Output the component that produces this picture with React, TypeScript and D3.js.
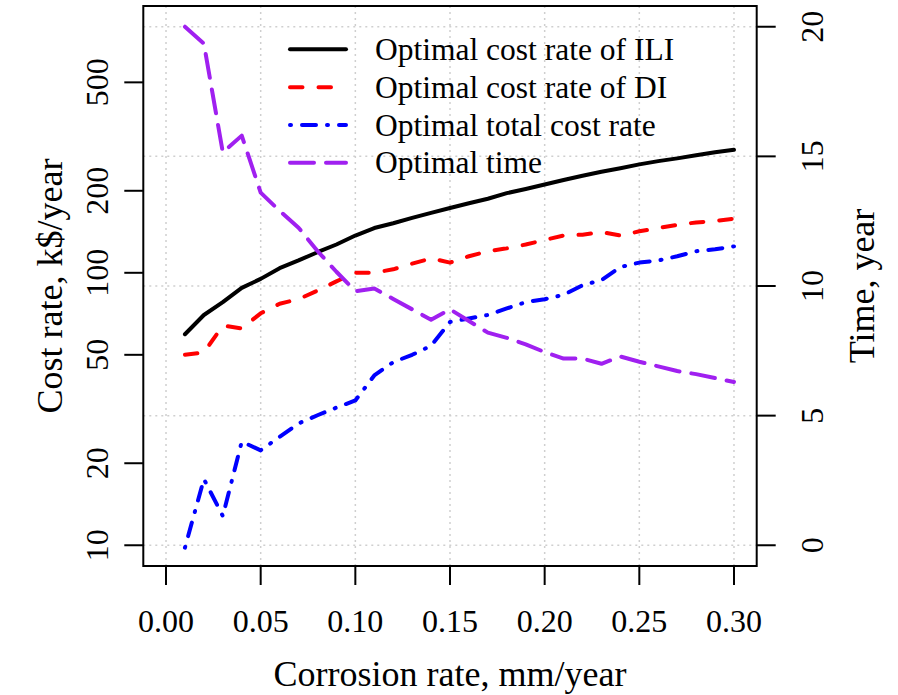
import React from "react";
import * as d3 from "d3";

const corrosionRates = [0.01,0.02,0.03,0.04,0.05,0.06,0.07,0.08,0.09,0.10,0.11,0.12,0.13,0.14,0.15,0.16,0.17,0.18,0.19,0.20,0.21,0.22,0.23,0.24,0.25,0.26,0.27,0.28,0.29,0.30];
const costILI = [59.5,70,78,88,95,104,111,119,127,137,146,152,159,166,173,180,187,196,203,211,219,227,235,242,250,257,263,270,277,283];
const costDI = [50,51,64,62.5,71,77,80,86,93,100,100,103,108,113,109,115,120,123,127,132,137,138,141,137,142,146,150,153,155,158];
const costTotal = [9.8,17.5,12.8,24,22.3,25,28,30,32,34,42,47,50,54,66,68,70,74,78,80,83,90,94,105,109,111,115,120,122,125];
const optimalTime = [20.0,19.35,15.15,15.8,13.6,12.9,12.25,11.35,10.55,9.8,9.9,9.5,9.1,8.7,9.1,8.65,8.2,8.0,7.75,7.45,7.2,7.2,7.0,7.28,7.08,6.9,6.72,6.6,6.45,6.3];

const xTicks = [0, 0.05, 0.1, 0.15, 0.2, 0.25, 0.3];
const leftTicks = [10, 20, 50, 100, 200, 500];
const rightTicks = [0, 5, 10, 15, 20];
const legendLabels = ["Optimal cost rate of ILI", "Optimal cost rate of DI", "Optimal total cost rate", "Optimal time"];

const W = 898, H = 695;
const L = 143.3, R = 756.7, T = 6, B = 566;
const FONT = "'Liberation Serif', 'Times New Roman', serif";

export default function App() {
  const x = d3.scaleLinear().domain([-0.012, 0.312]).range([L, R]);
  const lo = 1 - 0.04 * Math.log10(80);
  const hi = Math.log10(800) + 0.04 * Math.log10(80);
  const yL = d3.scaleLog().domain([Math.pow(10, lo), Math.pow(10, hi)]).range([B, T]);
  const yR = d3.scaleLinear().domain([-0.8, 20.8]).range([B, T]);

  const mk = (vals: number[], y: (v: number) => number) =>
    d3.line<number>().x((_, i) => x(corrosionRates[i])).y((v) => y(v))(vals) || "";

  const series = [
    { d: mk(costILI, yL), color: "#000000", dash: "none" },
    { d: mk(costDI, yL), color: "#ff0000", dash: "12.5 16" },
    { d: mk(costTotal, yL), color: "#0000ff", dash: "1 11 14 11" },
    { d: mk(optimalTime, yR), color: "#a020f0", dash: "24 12" },
  ];

  const legendY = [49.3, 87.3, 125, 162.7];

  return (
    <svg width={W} height={H} style={{ position: "absolute", left: 0, top: 0, background: "#fff" }} fontFamily={FONT}>
      <rect x={0} y={0} width={W} height={H} fill="#fff" />
      {/* grid */}
      <g stroke="#cfcfcf" strokeWidth={1.5} strokeDasharray="2 4">
        {xTicks.map((t) => (
          <line key={"gx" + t} x1={x(t)} x2={x(t)} y1={T} y2={B} />
        ))}
        {rightTicks.map((t) => (
          <line key={"gy" + t} x1={L} x2={R} y1={yR(t)} y2={yR(t)} />
        ))}
      </g>
      {/* series */}
      {series.map((s, i) => (
        <path key={i} d={s.d} fill="none" stroke={s.color} strokeWidth={4}
          strokeDasharray={s.dash} strokeLinecap="round" strokeLinejoin="round" />
      ))}
      {/* legend */}
      {series.map((s, i) => (
        <g key={"lg" + i}>
          <line x1={290} x2={346} y1={legendY[i]} y2={legendY[i]} stroke={s.color} strokeWidth={4}
            strokeDasharray={s.dash} strokeLinecap="round" />
          <text x={375} y={legendY[i] + 10.7} fontSize={31.5} fill="#000">{legendLabels[i]}</text>
        </g>
      ))}
      {/* box */}
      <rect x={L} y={T} width={R - L} height={B - T} fill="none" stroke="#000" strokeWidth={2} />
      {/* x axis */}
      <g>
        {xTicks.map((t) => (
          <g key={"xt" + t}>
            <line x1={x(t)} x2={x(t)} y1={B} y2={B + 19} stroke="#000" strokeWidth={2} />
            <text x={x(t)} y={632} fontSize={32} textAnchor="middle">{t.toFixed(2)}</text>
          </g>
        ))}
        <text x={(L + R) / 2} y={686} fontSize={36} textAnchor="middle">Corrosion rate, mm/year</text>
      </g>
      {/* left axis */}
      <g>
        {leftTicks.map((t) => (
          <g key={"lt" + t}>
            <line x1={L - 19} x2={L} y1={yL(t)} y2={yL(t)} stroke="#000" strokeWidth={2} />
            <text transform={`translate(108,${yL(t)}) rotate(-90)`} fontSize={32} textAnchor="middle">{t}</text>
          </g>
        ))}
        <text transform={`translate(62,${(T + B) / 2}) rotate(-90)`} fontSize={36} textAnchor="middle">Cost rate, k$/year</text>
      </g>
      {/* right axis */}
      <g>
        {rightTicks.map((t) => (
          <g key={"rt" + t}>
            <line x1={R} x2={R + 19} y1={yR(t)} y2={yR(t)} stroke="#000" strokeWidth={2} />
            <text transform={`translate(823,${yR(t)}) rotate(-90)`} fontSize={32} textAnchor="middle">{t}</text>
          </g>
        ))}
        <text transform={`translate(874,${(T + B) / 2}) rotate(-90)`} fontSize={36} textAnchor="middle">Time, year</text>
      </g>
    </svg>
  );
}
